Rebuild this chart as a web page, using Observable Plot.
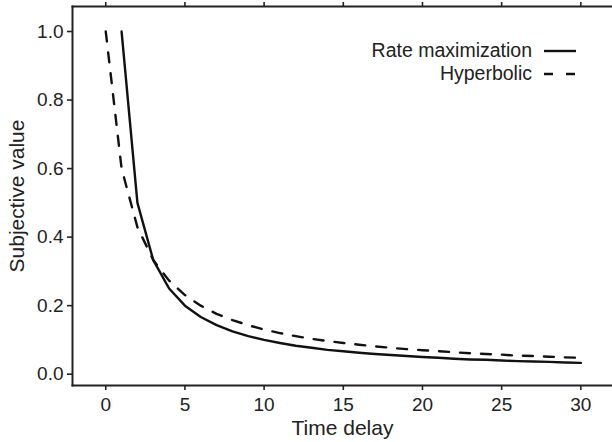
<!DOCTYPE html>
<html>
<head>
<meta charset="utf-8">
<script src="https://cdn.jsdelivr.net/npm/d3@7"></script>
<script src="https://cdn.jsdelivr.net/npm/@observablehq/plot@0.6"></script>
<style>
  html, body { margin: 0; padding: 0; background: #fff; }
  #wrap { position: relative; width: 612px; height: 442px; font-family: "Liberation Sans", Arial, Helvetica, sans-serif; color: #222; }
  #legend { position: absolute; right: 36px; top: 39px; font-size: 19.5px; line-height: 23px; }
  #legend .row { display: flex; justify-content: flex-end; align-items: center; height: 23px; }
  #legend .row svg { margin-left: 12px; }
</style>
</head>
<body>
<div id="wrap"></div>
<script>
// ---- data ----
const delayRate = [1,2,3,4,5,6,7,8,9,10,11,12,13,14,15,16,17,18,19,20,21,22,23,24,25,26,27,28,29,30];
const rateValues = [1.0,0.5,0.333,0.25,0.2,0.167,0.143,0.125,0.111,0.1,0.091,0.083,0.077,0.071,0.067,0.0625,0.059,0.056,0.053,0.05,0.048,0.045,0.043,0.042,0.04,0.038,0.037,0.036,0.034,0.033];
const delayHyp = [0,1,2,3,4,5,6,7,8,9,10,11,12,13,14,15,16,17,18,19,20,21,22,23,24,25,26,27,28,29,30];
const hypValues = [1.0,0.6,0.429,0.333,0.273,0.231,0.2,0.176,0.158,0.143,0.13,0.12,0.111,0.103,0.097,0.091,0.086,0.081,0.077,0.073,0.07,0.067,0.064,0.061,0.059,0.057,0.054,0.053,0.051,0.049,0.048];
const xTicks = [0,5,10,15,20,25,30];
const yTicks = [0.0,0.2,0.4,0.6,0.8,1.0];
const seriesNames = ["Rate maximization","Hyperbolic"];
const xLabel = "Time delay";
const yLabel = "Subjective value";

const rate = delayRate.map((d,i) => ({delay: d, value: rateValues[i]}));
const hyp = delayHyp.map((d,i) => ({delay: d, value: hypValues[i]}));

const ink = "#222";
const chart = Plot.plot({
  width: 612,
  height: 442,
  marginLeft: 72,
  marginRight: 0,
  marginTop: 6,
  marginBottom: 57,
  style: { fontFamily: '"Liberation Sans", Arial, Helvetica, sans-serif', color: ink, background: "#fff", overflow: "visible" },
  x: { domain: [-2.1, 32] },
  y: { domain: [-0.033, 1.073] },
  marks: [
    Plot.frame({anchor: "left", stroke: ink, strokeWidth: 2}),
    Plot.frame({anchor: "bottom", stroke: ink, strokeWidth: 2}),
    Plot.frame({anchor: "top", stroke: ink, strokeWidth: 2}),
    Plot.axisX({ticks: xTicks, anchor: "bottom", tickSize: 5, tickPadding: 7, fontSize: 19, stroke: ink, strokeWidth: 1.6, fill: ink, tickFormat: d => String(d), label: null}),
    Plot.axisX({ticks: xTicks, anchor: "top", tickSize: 5, stroke: ink, strokeWidth: 1.6, tickFormat: () => "", label: null}),
    Plot.axisY({ticks: yTicks, anchor: "left", tickSize: 5, tickPadding: 4, fontSize: 19, stroke: ink, strokeWidth: 1.6, fill: ink, tickFormat: d3.format(".1f"), label: null}),
    Plot.text([xLabel], {frameAnchor: "bottom", textAnchor: "middle", text: d => d, dy: 49, fontSize: 21, fill: ink}),
    Plot.text([yLabel], {frameAnchor: "left", textAnchor: "middle", text: d => d, rotate: -90, dx: -55, fontSize: 21, fill: ink}),
    Plot.line(hyp, {x: "delay", y: "value", stroke: "#111", strokeWidth: 2.4, strokeDasharray: "10,11"}),
    Plot.line(rate, {x: "delay", y: "value", stroke: "#111", strokeWidth: 2.4})
  ]
});

const wrap = document.getElementById("wrap");
wrap.appendChild(chart);

const legend = document.createElement("div");
legend.id = "legend";
seriesNames.forEach((name, i) => {
  const row = document.createElement("div");
  row.className = "row";
  const span = document.createElement("span");
  span.textContent = name;
  row.appendChild(span);
  const dash = i === 0 ? "" : ' stroke-dasharray="9,13"';
  row.insertAdjacentHTML("beforeend",
    `<svg width="32" height="6" viewBox="0 0 32 6"><line x1="0" x2="32" y1="3" y2="3" stroke="#111" stroke-width="2.4"${dash}/></svg>`);
  legend.appendChild(row);
});
wrap.appendChild(legend);
</script>
</body>
</html>
